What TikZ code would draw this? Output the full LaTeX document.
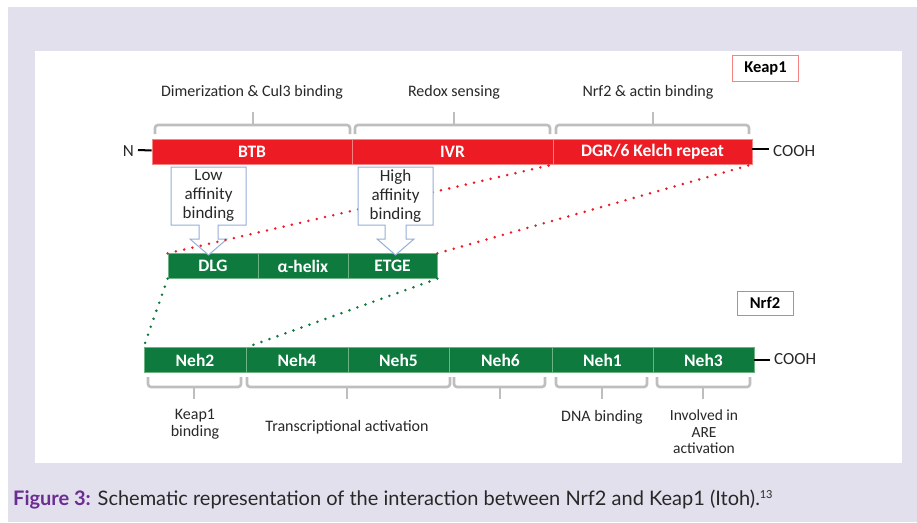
\documentclass[tikz,border=0pt]{standalone}
\usepackage{fontspec}
\setmainfont{Carlito}
\newfontfamily\capfont{Lato}
\definecolor{lav}{RGB}{227,224,238}
\definecolor{kred}{RGB}{237,28,36}
\definecolor{kredl}{RGB}{246,130,130}
\definecolor{ngreen}{RGB}{14,122,62}
\definecolor{ngreenl}{RGB}{110,180,130}
\definecolor{brgray}{RGB}{190,190,190}
\definecolor{callb}{RGB}{150,175,215}
\definecolor{txt}{RGB}{40,40,40}
\definecolor{figpurple}{RGB}{106,45,145}
\begin{document}
\begin{tikzpicture}[x=1pt,y=-1pt,
  kseg/.style={draw=kredl,line width=0.8pt,fill=kred,text=white,font=\fontsize{17.5}{18}\selectfont\bfseries,minimum height=25pt,inner sep=0pt},
  nseg/.style={draw=ngreenl,line width=0.8pt,fill=ngreen,text=white,font=\fontsize{17.5}{18}\selectfont\bfseries,minimum height=24.5pt,inner sep=0pt},
  lbl/.style={text=txt,font=\fontsize{16}{17}\selectfont,align=center,inner sep=0pt},
  brace/.style={draw=brgray,line width=2.6pt,rounded corners=3pt},
  rdot/.style={draw=kred,line width=2.8pt,line cap=round,dash pattern=on 0pt off 8.5pt},
  gdot/.style={draw=ngreen,line width=2.8pt,line cap=round,dash pattern=on 0pt off 8.5pt},
  callout/.style={draw=callb,line width=1pt,fill=white,line join=miter},
  calltxt/.style={text=txt,font=\fontsize{17}{19}\selectfont,align=center,inner sep=0pt},
  tagbox/.style={line width=1pt,fill=white,font=\fontsize{16.5}{18}\selectfont\bfseries,text=black,inner sep=0pt}
]
\useasboundingbox (0,0) rectangle (917,522);
\fill[white] (0,0) rectangle (917,522);
\fill[lav] (8,7) rectangle (917,522);
\fill[white] (35,51) rectangle (902,463);

% Keap1 tag
\node[tagbox,draw=kredl,minimum width=66pt,minimum height=26pt] (keaptag) at (765.5,68.5) {Keap1};
% Nrf2 tag
\node[tagbox,draw=ngreenl,minimum width=56pt,minimum height=24pt] (nrftag) at (765,303) {Nrf2};

% Keap1 bar
\node[kseg,minimum width=200pt] (btb) at (252,151.5) {BTB};
\node[kseg,minimum width=201pt] (ivr) at (452.5,151.5) {IVR};
\node[kseg,minimum width=199pt] (dgr) at (652.5,151.5) {DGR/6 Kelch repeat};
\node[text=txt,font=\fontsize{17}{18}\selectfont,inner sep=0pt,anchor=east] (nlab) at (134,151) {N};
\node[text=txt,font=\fontsize{17}{18}\selectfont,inner sep=0pt,anchor=west] (kcooh) at (773,151.5) {COOH};
\draw[black,line width=2pt] ([xshift=4pt,yshift=1pt]nlab.east) -- ([yshift=1pt]btb.west);
\draw[black,line width=2pt] ([yshift=2.5pt]dgr.east) -- ([xshift=-4pt,yshift=2.5pt]kcooh.west);

% top braces and labels
\draw[brace] (155,134) -- (155,125) -- (350,125) -- (350,134);
\draw[brace] (253,125) -- (253,112);
\draw[brace] (355,134) -- (355,125) -- (550,125) -- (550,134);
\draw[brace] (454,125) -- (454,112);
\draw[brace] (556,134) -- (556,125) -- (749,125) -- (749,134);
\draw[brace] (653,125) -- (653,112);
\node[lbl] (dimer) at (252,92) {Dimerization \& Cul3 binding};
\node[lbl] (redox) at (454,92) {Redox sensing};
\node[lbl] (actin) at (648,92) {Nrf2 \& actin binding};

% Nrf2 fragment bar
\node[nseg,minimum width=90pt] (dlg) at (213,266) {DLG};
\node[nseg,minimum width=90pt] (helix) at (303,266) {α-helix};
\node[nseg,minimum width=89pt] (etge) at (392.5,266) {ETGE};

% low affinity callout
\draw[callout] (171,167) -- (246,167) -- (246,225) -- (218,225) -- (218,239) -- (227,239) -- (208.5,255) -- (190,239) -- (199,239) -- (199,225) -- (171,225) -- cycle;
\node[calltxt] (lowtxt) at (208.5,196) {Low\\affinity\\binding};

% red dotted connectors
\draw[rdot] (dlg.north west) -- (ivr.south east);
\draw[rdot] (etge.north east) -- (dgr.south east);

% high affinity callout
\draw[callout] (358,167) -- (433,167) -- (433,225) -- (406,225) -- (406,239) -- (414,239) -- (395.5,255) -- (377,239) -- (385,239) -- (385,225) -- (358,225) -- cycle;
\node[calltxt] (hightxt) at (395.5,196) {High\\affinity\\binding};

% Nrf2 full bar
\node[nseg,minimum width=102pt] (neh2) at (195,360) {Neh2};
\node[nseg,minimum width=102pt] (neh4) at (297,360) {Neh4};
\node[nseg,minimum width=101pt] (neh5) at (398.5,360) {Neh5};
\node[nseg,minimum width=103pt] (neh6) at (500.5,360) {Neh6};
\node[nseg,minimum width=101pt] (neh1) at (602.5,360) {Neh1};
\node[nseg,minimum width=101pt] (neh3) at (703.5,360) {Neh3};
\node[text=txt,font=\fontsize{17}{18}\selectfont,inner sep=0pt,anchor=west] (ncooh) at (774,359) {COOH};
\draw[black,line width=2pt] (neh3.east) -- ([xshift=-4pt]ncooh.west |- neh3.east);

% green dotted connectors
\draw[gdot] (dlg.south west) -- (neh2.north west);
\draw[gdot] (etge.south east) -- (neh2.north east);

% bottom braces
\draw[brace] (148,377) -- (148,387) -- (241,387) -- (241,377);
\draw[brace] (194,387) -- (194,399);
\draw[brace] (247,377) -- (247,387) -- (450,387) -- (450,377);
\draw[brace] (347,387) -- (347,399);
\draw[brace] (454,377) -- (454,387) -- (545,387) -- (545,377);
\draw[brace] (500,387) -- (500,399);
\draw[brace] (556,377) -- (556,387) -- (647,387) -- (647,377);
\draw[brace] (602,387) -- (602,399);
\draw[brace] (657,377) -- (657,387) -- (750,387) -- (750,377);
\draw[brace] (703,387) -- (703,399);

\node[lbl,font=\fontsize{16}{16.5}\selectfont] (kbind) at (195,424) {Keap1\\binding};
\node[lbl] (trans) at (347,427) {Transcriptional activation};
\node[lbl] (dna) at (602,417) {DNA binding};
\node[lbl,font=\fontsize{15.5}{16.5}\selectfont] (are) at (704,432) {Involved in\\ARE\\activation};

% caption
\node[anchor=base west,inner sep=0pt,font=\capfont\fontsize{20}{22}\selectfont,text=txt] (caption) at (13,505) {{\color{figpurple}\bfseries Figure 3:} Schematic representation of the interaction between Nrf2 and Keap1 (Itoh).\raisebox{7pt}{\fontsize{11}{11}\selectfont 13}};
\end{tikzpicture}
\end{document}
